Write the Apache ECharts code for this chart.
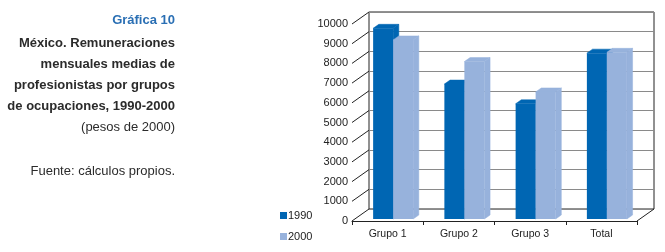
<!DOCTYPE html>
<html>
<head>
<meta charset="utf-8">
<script src="https://cdn.jsdelivr.net/npm/echarts@6/dist/echarts.min.js"></script>
<style>
html,body{margin:0;padding:0;background:#fff;}
#c{width:665px;height:252px;}
</style>
</head>
<body>
<div id="c"></div>
<script>
const categories = ['Grupo 1', 'Grupo 2', 'Grupo 3', 'Total'];
const values1990 = [9680, 6850, 5850, 8420];
const values2000 = [9090, 7990, 6450, 8460];
const seriesNames = ['1990', '2000'];
const yTicks = [0, 1000, 2000, 3000, 4000, 5000, 6000, 7000, 8000, 9000, 10000];
const titleLines = [
  'México. Remuneraciones',
  'mensuales medias de',
  'profesionistas por grupos',
  'de ocupaciones, 1990-2000'
];

const DARK = '#0066b3';
const LIGHT = '#97b2dc';
const WALL_DX = 17, WALL_DY = -12;
const BAR_DX = 5.7, BAR_DY = -4;
const BW = 20, SHIFT = 5.5, LIFT = 2;
const FONT = '"Liberation Sans", Arial, sans-serif';

function barRender(idx, color) {
  return function (params, api) {
    const i = api.value(0), v = api.value(1);
    const base = api.coord([i, 0]);
    const top = api.coord([i, v]);
    const x0 = base[0] + SHIFT + (idx - 1) * BW;
    const by = base[1] - LIFT;
    const ty = top[1] - LIFT;
    const st = { fill: color, stroke: color, lineWidth: 0.5 };
    return {
      type: 'group',
      children: [
        { type: 'polygon', shape: { points: [[x0 + BW, ty], [x0 + BW + BAR_DX, ty + BAR_DY], [x0 + BW + BAR_DX, by + BAR_DY], [x0 + BW, by]] }, style: st },
        { type: 'polygon', shape: { points: [[x0, ty], [x0 + BW, ty], [x0 + BW + BAR_DX, ty + BAR_DY], [x0 + BAR_DX, ty + BAR_DY]] }, style: st },
        { type: 'rect', shape: { x: x0, y: ty, width: BW, height: by - ty }, style: { fill: color } }
      ]
    };
  };
}

function decorRender(params, api) {
  const cs = params.coordSys;
  const children = [];
  const lineStyle = { stroke: '#222', lineWidth: 1 };
  yTicks.forEach(function (t) {
    const y = api.coord([0, t])[1];
    children.push({ type: 'line', shape: { x1: cs.x, y1: y, x2: cs.x + WALL_DX, y2: y + WALL_DY }, style: lineStyle });
  });
  const y0 = api.coord([0, 0])[1];
  children.push({ type: 'line', shape: { x1: cs.x + cs.width, y1: y0, x2: cs.x + cs.width + WALL_DX, y2: y0 + WALL_DY }, style: lineStyle });
  return { type: 'group', children: children };
}

const graphics = [];
graphics.push({ type: 'text', x: 175, y: 20, style: { text: 'Gráfica 10', fill: '#2a6fb4', font: 'bold 13px ' + FONT, textAlign: 'right', textVerticalAlign: 'middle' } });
const lineYs = [43, 64, 85, 106];
titleLines.forEach(function (t, k) {
  graphics.push({ type: 'text', x: 175, y: lineYs[k], style: { text: t, fill: '#2b2b2b', font: 'bold 13px ' + FONT, textAlign: 'right', textVerticalAlign: 'middle' } });
});
graphics.push({ type: 'text', x: 175, y: 127, style: { text: '(pesos de 2000)', fill: '#2b2b2b', font: '13px ' + FONT, textAlign: 'right', textVerticalAlign: 'middle' } });
graphics.push({ type: 'text', x: 175, y: 171, style: { text: 'Fuente: cálculos propios.', fill: '#2b2b2b', font: '13px ' + FONT, textAlign: 'right', textVerticalAlign: 'middle' } });

const chart = echarts.init(document.getElementById('c'), null, { renderer: 'canvas' });
chart.setOption({
  animation: false,
  backgroundColor: '#fff',
  graphic: graphics,
  legend: {
    data: seriesNames,
    orient: 'vertical',
    left: 280,
    top: 210,
    itemWidth: 7,
    itemHeight: 7,
    itemGap: 10,
    padding: 0,
    icon: 'rect',
    textStyle: { fontSize: 11, color: '#222', fontFamily: FONT, padding: [0, 0, 0, -4] }
  },
  grid: [
    { left: 352, right: 28, top: 24, bottom: 31, show: false },
    { left: 369, right: 11, top: 12, bottom: 43, show: true, borderColor: '#222', borderWidth: 1, backgroundColor: 'transparent' }
  ],
  xAxis: [
    {
      gridIndex: 0, type: 'category', data: categories,
      axisLine: { show: true, lineStyle: { color: '#222', width: 1 } },
      axisTick: { show: true, length: 4, lineStyle: { color: '#222' } },
      axisLabel: { fontSize: 10.5, color: '#222', fontFamily: FONT, margin: 8 }
    },
    { gridIndex: 1, type: 'category', data: categories, show: false }
  ],
  yAxis: [
    {
      gridIndex: 0, type: 'value', min: 0, max: 10000, interval: 1000,
      axisLine: { show: false }, axisTick: { show: false }, splitLine: { show: false },
      axisLabel: { fontSize: 11, color: '#222', fontFamily: FONT, margin: 4, formatter: function (v) { return String(v); } }
    },
    {
      gridIndex: 1, type: 'value', min: 0, max: 10000, interval: 1000,
      axisLine: { show: false }, axisTick: { show: false }, axisLabel: { show: false },
      splitLine: { show: true, lineStyle: { color: '#8a8a8a', width: 1 } }
    }
  ],
  series: [
    {
      type: 'custom', name: 'decor', xAxisIndex: 0, yAxisIndex: 0, silent: true,
      renderItem: decorRender, data: [[0, 0]], z: 1
    },
    {
      type: 'custom', name: seriesNames[0], xAxisIndex: 0, yAxisIndex: 0,
      itemStyle: { color: DARK },
      renderItem: barRender(0, DARK),
      data: values1990.map(function (v, i) { return [i, v]; }), z: 3
    },
    {
      type: 'custom', name: seriesNames[1], xAxisIndex: 0, yAxisIndex: 0,
      itemStyle: { color: LIGHT },
      renderItem: barRender(1, LIGHT),
      data: values2000.map(function (v, i) { return [i, v]; }), z: 4
    }
  ]
});
</script>
</body>
</html>
